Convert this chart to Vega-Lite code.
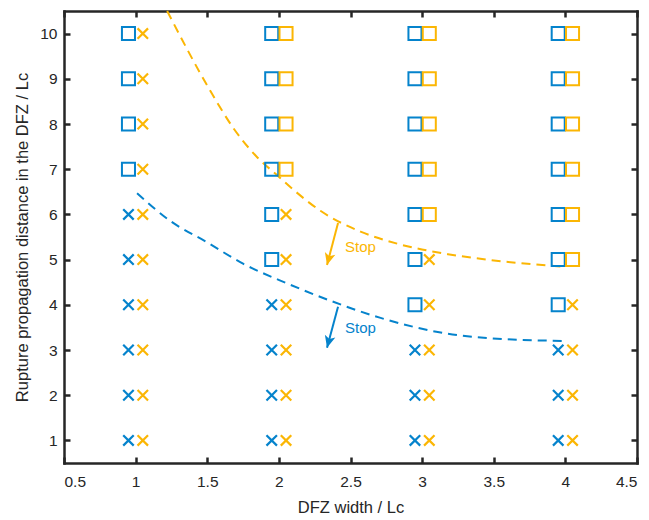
{
  "$schema": "https://vega.github.io/schema/vega-lite/v6.json",
  "width": 573,
  "height": 452,
  "autosize": {"type": "none"},
  "padding": {"left": 64, "top": 11, "right": 12, "bottom": 57},
  "background": "white",
  "config": {
    "view": {"stroke": null},
    "font": "Liberation Sans",
    "axis": {
      "grid": false,
      "domainColor": "#262626",
      "domainWidth": 2.5,
      "domainCap": "square",
      "tickColor": "#262626",
      "tickWidth": 2.5,
      "tickSize": -6,
      "labelColor": "#262626",
      "labelFont": "Liberation Sans",
      "labelFontSize": 15.5,
      "titleColor": "#262626",
      "titleFont": "Liberation Sans",
      "titleFontSize": 16.5,
      "titleFontWeight": "normal"
    }
  },
  "datasets": {
    "markers": [
      {"x": 0.95, "y": 1, "s": "A", "o": "stop"}, {"x": 0.95, "y": 2, "s": "A", "o": "stop"}, {"x": 0.95, "y": 3, "s": "A", "o": "stop"}, {"x": 0.95, "y": 4, "s": "A", "o": "stop"}, {"x": 0.95, "y": 5, "s": "A", "o": "stop"}, {"x": 0.95, "y": 6, "s": "A", "o": "stop"}, {"x": 0.95, "y": 7, "s": "A", "o": "pass"}, {"x": 0.95, "y": 8, "s": "A", "o": "pass"}, {"x": 0.95, "y": 9, "s": "A", "o": "pass"}, {"x": 0.95, "y": 10, "s": "A", "o": "pass"},
      {"x": 1.95, "y": 1, "s": "A", "o": "stop"}, {"x": 1.95, "y": 2, "s": "A", "o": "stop"}, {"x": 1.95, "y": 3, "s": "A", "o": "stop"}, {"x": 1.95, "y": 4, "s": "A", "o": "stop"}, {"x": 1.95, "y": 5, "s": "A", "o": "pass"}, {"x": 1.95, "y": 6, "s": "A", "o": "pass"}, {"x": 1.95, "y": 7, "s": "A", "o": "pass"}, {"x": 1.95, "y": 8, "s": "A", "o": "pass"}, {"x": 1.95, "y": 9, "s": "A", "o": "pass"}, {"x": 1.95, "y": 10, "s": "A", "o": "pass"},
      {"x": 2.95, "y": 1, "s": "A", "o": "stop"}, {"x": 2.95, "y": 2, "s": "A", "o": "stop"}, {"x": 2.95, "y": 3, "s": "A", "o": "stop"}, {"x": 2.95, "y": 4, "s": "A", "o": "pass"}, {"x": 2.95, "y": 5, "s": "A", "o": "pass"}, {"x": 2.95, "y": 6, "s": "A", "o": "pass"}, {"x": 2.95, "y": 7, "s": "A", "o": "pass"}, {"x": 2.95, "y": 8, "s": "A", "o": "pass"}, {"x": 2.95, "y": 9, "s": "A", "o": "pass"}, {"x": 2.95, "y": 10, "s": "A", "o": "pass"},
      {"x": 3.95, "y": 1, "s": "A", "o": "stop"}, {"x": 3.95, "y": 2, "s": "A", "o": "stop"}, {"x": 3.95, "y": 3, "s": "A", "o": "stop"}, {"x": 3.95, "y": 4, "s": "A", "o": "pass"}, {"x": 3.95, "y": 5, "s": "A", "o": "pass"}, {"x": 3.95, "y": 6, "s": "A", "o": "pass"}, {"x": 3.95, "y": 7, "s": "A", "o": "pass"}, {"x": 3.95, "y": 8, "s": "A", "o": "pass"}, {"x": 3.95, "y": 9, "s": "A", "o": "pass"}, {"x": 3.95, "y": 10, "s": "A", "o": "pass"},
      {"x": 1.05, "y": 1, "s": "B", "o": "stop"}, {"x": 1.05, "y": 2, "s": "B", "o": "stop"}, {"x": 1.05, "y": 3, "s": "B", "o": "stop"}, {"x": 1.05, "y": 4, "s": "B", "o": "stop"}, {"x": 1.05, "y": 5, "s": "B", "o": "stop"}, {"x": 1.05, "y": 6, "s": "B", "o": "stop"}, {"x": 1.05, "y": 7, "s": "B", "o": "stop"}, {"x": 1.05, "y": 8, "s": "B", "o": "stop"}, {"x": 1.05, "y": 9, "s": "B", "o": "stop"}, {"x": 1.05, "y": 10, "s": "B", "o": "stop"},
      {"x": 2.05, "y": 1, "s": "B", "o": "stop"}, {"x": 2.05, "y": 2, "s": "B", "o": "stop"}, {"x": 2.05, "y": 3, "s": "B", "o": "stop"}, {"x": 2.05, "y": 4, "s": "B", "o": "stop"}, {"x": 2.05, "y": 5, "s": "B", "o": "stop"}, {"x": 2.05, "y": 6, "s": "B", "o": "stop"}, {"x": 2.05, "y": 7, "s": "B", "o": "pass"}, {"x": 2.05, "y": 8, "s": "B", "o": "pass"}, {"x": 2.05, "y": 9, "s": "B", "o": "pass"}, {"x": 2.05, "y": 10, "s": "B", "o": "pass"},
      {"x": 3.05, "y": 1, "s": "B", "o": "stop"}, {"x": 3.05, "y": 2, "s": "B", "o": "stop"}, {"x": 3.05, "y": 3, "s": "B", "o": "stop"}, {"x": 3.05, "y": 4, "s": "B", "o": "stop"}, {"x": 3.05, "y": 5, "s": "B", "o": "stop"}, {"x": 3.05, "y": 6, "s": "B", "o": "pass"}, {"x": 3.05, "y": 7, "s": "B", "o": "pass"}, {"x": 3.05, "y": 8, "s": "B", "o": "pass"}, {"x": 3.05, "y": 9, "s": "B", "o": "pass"}, {"x": 3.05, "y": 10, "s": "B", "o": "pass"},
      {"x": 4.05, "y": 1, "s": "B", "o": "stop"}, {"x": 4.05, "y": 2, "s": "B", "o": "stop"}, {"x": 4.05, "y": 3, "s": "B", "o": "stop"}, {"x": 4.05, "y": 4, "s": "B", "o": "stop"}, {"x": 4.05, "y": 5, "s": "B", "o": "pass"}, {"x": 4.05, "y": 6, "s": "B", "o": "pass"}, {"x": 4.05, "y": 7, "s": "B", "o": "pass"}, {"x": 4.05, "y": 8, "s": "B", "o": "pass"}, {"x": 4.05, "y": 9, "s": "B", "o": "pass"}, {"x": 4.05, "y": 10, "s": "B", "o": "pass"}
    ],
    "curves": [
      {"x": 1.22, "y": 10.5, "s": "B"}, {"x": 1.52, "y": 8.74, "s": "B"}, {"x": 1.68, "y": 7.92, "s": "B"}, {"x": 1.85, "y": 7.26, "s": "B"}, {"x": 1.99, "y": 6.86, "s": "B"}, {"x": 2.1, "y": 6.55, "s": "B"}, {"x": 2.29, "y": 6.08, "s": "B"}, {"x": 2.57, "y": 5.62, "s": "B"}, {"x": 2.83, "y": 5.35, "s": "B"}, {"x": 3.18, "y": 5.12, "s": "B"}, {"x": 3.48, "y": 4.99, "s": "B"}, {"x": 3.76, "y": 4.9, "s": "B"}, {"x": 4.0, "y": 4.84, "s": "B"},
      {"x": 1.01, "y": 6.47, "s": "A"}, {"x": 1.24, "y": 5.86, "s": "A"}, {"x": 1.5, "y": 5.38, "s": "A"}, {"x": 1.75, "y": 4.91, "s": "A"}, {"x": 2.06, "y": 4.47, "s": "A"}, {"x": 2.36, "y": 4.09, "s": "A"}, {"x": 2.71, "y": 3.71, "s": "A"}, {"x": 3.18, "y": 3.36, "s": "A"}, {"x": 3.48, "y": 3.26, "s": "A"}, {"x": 4.0, "y": 3.2, "s": "A"}
    ],
    "arrows": [
      {"tx": 2.413, "ty": 5.81, "hx": 2.336, "hy": 4.88, "s": "B", "label": "Stop", "lx": 2.462, "ly": 5.28},
      {"tx": 2.413, "ty": 3.955, "hx": 2.336, "hy": 3.05, "s": "A", "label": "Stop", "lx": 2.462, "ly": 3.49}
    ]
  },
  "layer": [
    {
      "data": {"name": "curves"},
      "mark": {"type": "line", "strokeDash": [9, 6], "strokeWidth": 2, "interpolate": "monotone"},
      "encoding": {
        "x": {"field": "x", "type": "quantitative", "scale": {"domain": [0.5, 4.5], "nice": false, "zero": false},
          "axis": {"orient": "bottom", "values": [0.5, 1, 1.5, 2, 2.5, 3, 3.5, 4, 4.5], "format": "~g", "labelPadding": 17, "title": "DFZ width / Lc", "titleY": 49, "titleBaseline": "alphabetic"}},
        "y": {"field": "y", "type": "quantitative", "scale": {"domain": [0.5, 10.5], "nice": false, "zero": false},
          "axis": {"orient": "left", "values": [1, 2, 3, 4, 5, 6, 7, 8, 9, 10], "labelPadding": 13, "title": "Rupture propagation distance in the DFZ / Lc", "titleX": -37, "titleY": 226, "titleBaseline": "alphabetic", "titleAlign": "center", "titleAngle": 270}},
        "color": {"field": "s", "type": "nominal", "scale": {"domain": ["A", "B"], "range": ["#0583CC", "#FBB604"]}, "legend": null},
        "detail": {"field": "s"}
      }
    },
    {
      "data": {"name": "markers"},
      "transform": [{"filter": "datum.o == 'pass'"}],
      "mark": {"type": "point", "shape": "square", "size": 170, "filled": false, "strokeWidth": 2, "opacity": 1},
      "encoding": {
        "x": {"field": "x", "type": "quantitative", "axis": {"orient": "top", "values": [0.5, 1, 1.5, 2, 2.5, 3, 3.5, 4, 4.5], "labels": false, "title": null}},
        "y": {"field": "y", "type": "quantitative", "axis": {"orient": "right", "values": [1, 2, 3, 4, 5, 6, 7, 8, 9, 10], "labels": false, "title": null}},
        "color": {"field": "s", "type": "nominal", "legend": null}
      }
    },
    {
      "data": {"name": "markers"},
      "transform": [{"filter": "datum.o == 'stop'"}],
      "mark": {"type": "point", "shape": "M-1,-1L1,1M1,-1L-1,1", "size": 110, "filled": false, "strokeWidth": 2.2, "opacity": 1},
      "encoding": {
        "x": {"field": "x", "type": "quantitative", "axis": null},
        "y": {"field": "y", "type": "quantitative", "axis": null},
        "color": {"field": "s", "type": "nominal", "legend": null}
      }
    },
    {
      "data": {"name": "arrows"},
      "mark": {"type": "rule", "strokeWidth": 2},
      "encoding": {
        "x": {"field": "tx", "type": "quantitative", "axis": null},
        "y": {"field": "ty", "type": "quantitative", "axis": null},
        "x2": {"field": "hx"},
        "y2": {"field": "hy"},
        "color": {"field": "s", "type": "nominal", "legend": null}
      }
    },
    {
      "data": {"name": "arrows"},
      "mark": {"type": "point", "shape": "M0,0L-0.9,-2L0,-1.5L0.9,-2Z", "size": 144, "filled": true, "angle": 15, "opacity": 1},
      "encoding": {
        "x": {"field": "hx", "type": "quantitative", "axis": null},
        "y": {"field": "hy", "type": "quantitative", "axis": null},
        "color": {"field": "s", "type": "nominal", "legend": null}
      }
    },
    {
      "data": {"name": "arrows"},
      "mark": {"type": "text", "align": "left", "baseline": "middle", "fontSize": 15, "font": "Liberation Sans"},
      "encoding": {
        "x": {"field": "lx", "type": "quantitative", "axis": null},
        "y": {"field": "ly", "type": "quantitative", "axis": null},
        "text": {"field": "label"},
        "color": {"field": "s", "type": "nominal", "legend": null}
      }
    }
  ],
  "resolve": {"axis": {"x": "independent", "y": "independent"}}
}
